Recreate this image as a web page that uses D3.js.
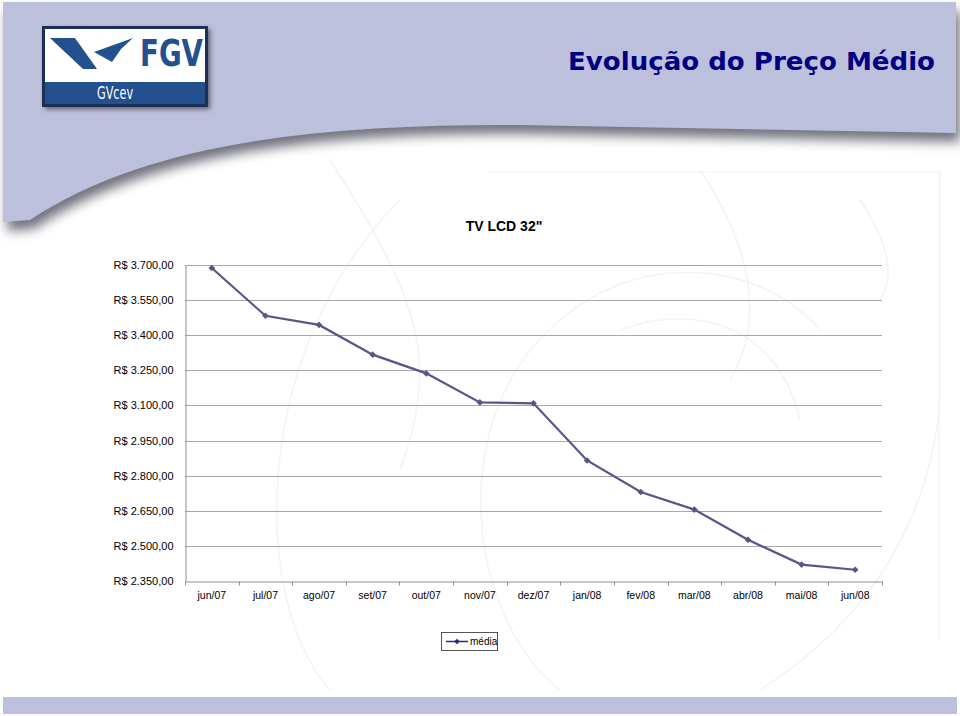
<!DOCTYPE html>
<html><head><meta charset="utf-8">
<script src="https://cdn.jsdelivr.net/npm/d3@7"></script>
<style>html,body{margin:0;padding:0;background:#fff;}svg{display:block;}</style>
</head><body>
<script>
// ---- data ----
const months = ["jun/07","jul/07","ago/07","set/07","out/07","nov/07","dez/07","jan/08","fev/08","mar/08","abr/08","mai/08","jun/08"];
const media = [3687,3483,3444,3317,3237,3113,3109,2865,2730,2655,2526,2420,2398];
const yTicks = [2350,2500,2650,2800,2950,3100,3250,3400,3550,3700];
const pageTitle = "Evolução do Preço Médio";
const chartTitle = "TV LCD 32\"";
const seriesName = "média";

const W = 960, H = 716;
const svg = d3.select("body").append("svg").attr("width", W).attr("height", H);
const defs = svg.append("defs");
const blur = defs.append("filter").attr("id","blur").attr("x","-10%").attr("y","-50%").attr("width","120%").attr("height","200%");
blur.append("feGaussianBlur").attr("stdDeviation", 6);
const blur2 = defs.append("filter").attr("id","blur2").attr("x","-20%").attr("y","-20%").attr("width","140%").attr("height","140%");
blur2.append("feGaussianBlur").attr("stdDeviation", 2.5);

// faint watermark
const wm = svg.append("g").attr("fill","none").attr("stroke","#f3f3f3").attr("stroke-width",1.5);
wm.append("path").attr("d","M330,690 C250,600 250,350 400,200 M560,690 C470,620 440,420 560,320 C640,250 760,260 820,330 M940,170 L940,400 C930,520 870,620 760,690 M620,330 C700,300 780,330 800,420 M330,160 C420,300 440,360 400,470 M700,170 C760,260 760,330 730,380 M860,200 C880,230 900,270 880,300");
wm.append("path").attr("d","M487,172 H939 V640").attr("stroke","#f0f0f0").attr("stroke-width",1);

// header with shadow
const hdr = "M3,2 H956 V133 L520,125 C330,124 150,140 30,220 L3,222 Z";
svg.append("path").attr("d", hdr).attr("fill","#5a5a68").attr("transform","translate(4,9)").attr("filter","url(#blur)").attr("opacity",0.85);
svg.append("path").attr("d", hdr).attr("fill","#bcc0dc");

// bottom bar
svg.append("rect").attr("x",3).attr("y",697).attr("width",954).attr("height",17).attr("fill","#bcc0dc");

// logo
const lg = svg.append("g");
lg.append("rect").attr("x",45).attr("y",29).attr("width",165).attr("height",80).attr("fill","#333").attr("filter","url(#blur2)").attr("opacity",0.7);
lg.append("rect").attr("x",42).attr("y",26).attr("width",166).attr("height",81).attr("fill","#1d2f55");
lg.append("rect").attr("x",45).attr("y",29).attr("width",160).attr("height",53).attr("fill","#ffffff");
lg.append("rect").attr("x",45).attr("y",82).attr("width",160).attr("height",22).attr("fill","#23508e");
lg.append("polygon").attr("points","50,38 75,38 97,69 83,69").attr("fill","#23508e");
lg.append("polygon").attr("points","94,52 133,38 121,49 112,62").attr("fill","#23508e");
lg.append("text").attr("x",140).attr("y",66).attr("font-family","'Liberation Sans Narrow','DejaVu Sans Condensed',sans-serif")
  .attr("font-weight","bold").attr("font-size",38).attr("fill","#23508e").attr("textLength",63).attr("lengthAdjust","spacingAndGlyphs").text("FGV");
lg.append("text").attr("x",97).attr("y",99).attr("font-family","'Liberation Sans Narrow','DejaVu Sans Condensed',sans-serif")
  .attr("font-size",18).attr("fill","#ffffff").attr("textLength",36).attr("lengthAdjust","spacingAndGlyphs").text("GVcev");

// page title
svg.append("text").attr("x",935).attr("y",70).attr("text-anchor","end")
  .attr("font-family","'DejaVu Sans',sans-serif").attr("font-weight","bold")
  .attr("font-size",25).attr("fill","#000080").attr("textLength",367).attr("lengthAdjust","spacingAndGlyphs").text(pageTitle);

// chart
const x = d3.scaleBand().domain(months).range([185, 882]).padding(0);
const y = d3.scaleLinear().domain([2350, 3700]).range([581, 265]);
const loc = d3.formatLocale({decimal:",", thousands:".", grouping:[3], currency:["R$ ",""]});
const fmt = loc.format("$,.2f");

svg.append("text").attr("x",504).attr("y",231).attr("text-anchor","middle")
  .attr("font-family","'Liberation Sans',Arial,sans-serif").attr("font-weight","bold").attr("font-size",14).attr("fill","#000").text(chartTitle);

// gridlines
svg.append("g").selectAll("line").data(yTicks.filter(d=>d>2350)).join("line")
  .attr("x1",185).attr("x2",882).attr("y1",d=>Math.round(y(d))+0.5).attr("y2",d=>Math.round(y(d))+0.5)
  .attr("stroke","#a8a8a8").attr("stroke-width",1);

// y axis
const yAxis = d3.axisLeft(y).tickValues(yTicks).tickFormat(fmt).tickSize(0).tickPadding(12);
const gy = svg.append("g").attr("transform","translate(185.5,0)").call(yAxis);
gy.select(".domain").attr("stroke","#909090");
gy.selectAll("text").attr("font-family","'Liberation Sans',Arial,sans-serif").attr("font-size",11).attr("fill","#000");

// x axis
const xAxis = d3.axisBottom(x).tickSize(0).tickPadding(10);
const gx = svg.append("g").attr("transform","translate(0,581.5)").call(xAxis);
gx.select(".domain").attr("stroke","#909090");
gx.selectAll("text").attr("font-family","'Liberation Sans',Arial,sans-serif").attr("font-size",10.5).attr("fill","#000");
const edges = months.map(m => x(m)).concat([x.range()[1]]);
gx.append("g").selectAll("line").data(edges).join("line")
  .attr("x1",d=>Math.round(d)+0.5).attr("x2",d=>Math.round(d)+0.5).attr("y1",0).attr("y2",4).attr("stroke","#909090");

// line
const cx = m => x(m) + x.bandwidth()/2;
const lineColor = "#56568a";
svg.append("path").datum(media.map((v,i)=>[months[i],v]))
  .attr("d", d3.line().x(d=>cx(d[0])).y(d=>y(d[1])))
  .attr("fill","none").attr("stroke",lineColor).attr("stroke-width",2.2);
const diamond = d3.symbol().type(d3.symbolSquare).size(22);
svg.append("g").selectAll("path").data(media.map((v,i)=>[months[i],v])).join("path")
  .attr("d", diamond).attr("transform", d=>`translate(${cx(d[0])},${y(d[1])}) rotate(45)`).attr("fill",lineColor);

// legend
const lgd = svg.append("g");
lgd.append("rect").attr("x",441.5).attr("y",632.5).attr("width",56).attr("height",18).attr("fill","#fff").attr("stroke","#555");
lgd.append("line").attr("x1",446).attr("x2",468).attr("y1",641.5).attr("y2",641.5).attr("stroke","#2a2a80").attr("stroke-width",1.5);
lgd.append("path").attr("d", d3.symbol().type(d3.symbolSquare).size(16)).attr("transform","translate(457,641.5) rotate(45)").attr("fill","#2a2a80");
lgd.append("text").attr("x",470).attr("y",645).attr("font-family","'Liberation Sans',Arial,sans-serif").attr("font-size",10).attr("fill","#000").text(seriesName);
</script>
</body></html>
